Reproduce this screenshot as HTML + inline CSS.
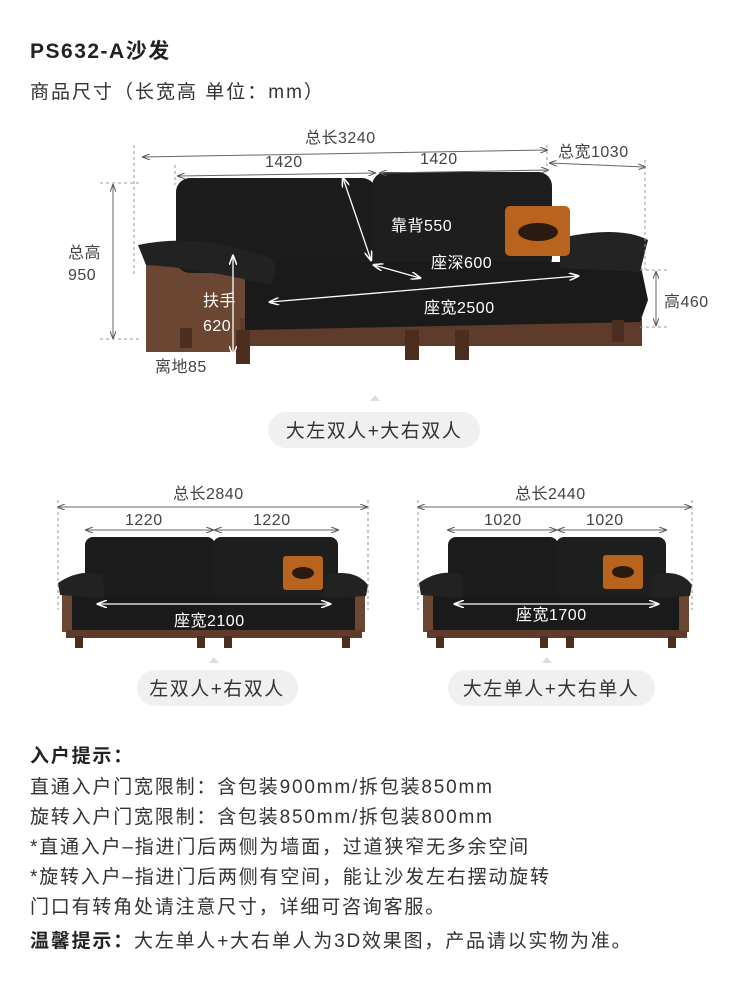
<!DOCTYPE html>
<html><head><meta charset="utf-8"><style>
html,body{margin:0;padding:0;background:#fff;}
svg{display:block;}
text{font-family:"Liberation Sans","Noto Sans CJK SC",sans-serif;}
</style></head><body>
<svg width="750" height="986" viewBox="0 0 750 986" xmlns="http://www.w3.org/2000/svg">
<defs>
<marker id="a" markerWidth="8" markerHeight="6" refX="7" refY="3" orient="auto-start-reverse"><path d="M0,0 L8,3 L0,6" fill="none" stroke="#555" stroke-width="1"/></marker>
<marker id="w" markerWidth="8" markerHeight="6" refX="7" refY="3" orient="auto-start-reverse"><path d="M0,0 L8,3 L0,6" fill="none" stroke="#fff" stroke-width="1.2"/></marker>
</defs>
<text x="30" y="58" font-size="21" font-weight="bold" fill="#222" letter-spacing="1.5">PS632-A沙发</text>
<text x="30" y="98" font-size="19" fill="#333" letter-spacing="2">商品尺寸（长宽高 单位：mm）</text>

<!-- TOP SOFA -->
<g>
<rect x="146" y="262" width="100" height="90" fill="#6a4633"/>
<rect x="240" y="318" width="402" height="28" fill="#5e3b2a"/>
<rect x="176" y="178" width="200" height="95" rx="14" fill="#1c1c1c"/>
<rect x="372" y="172" width="180" height="100" rx="14" fill="#1e1e1e"/>
<path d="M245,262 L640,262 L648,300 L640,322 L245,330 Z" fill="#1a1a1a"/>
<path d="M138,245 Q200,232 270,258 Q282,270 270,285 Q200,268 146,265 Z" fill="#222"/>
<path d="M560,238 Q620,225 648,240 L640,272 L560,268 Z" fill="#232323"/>
<rect x="505" y="206" width="65" height="50" rx="5" fill="#b8641e"/>
<ellipse cx="538" cy="232" rx="20" ry="9" fill="#2a1a10"/>
<rect x="236" y="330" width="14" height="34" fill="#4b2e20"/>
<rect x="405" y="330" width="14" height="30" fill="#4b2e20"/>
<rect x="455" y="330" width="14" height="30" fill="#4b2e20"/>
<rect x="612" y="320" width="12" height="22" fill="#4b2e20"/>
<rect x="180" y="328" width="12" height="20" fill="#4b2e20"/>
</g>
<g stroke="#666" stroke-width="1" fill="none">
<line x1="143" y1="157" x2="547" y2="150" marker-start="url(#a)" marker-end="url(#a)"/>
<line x1="178" y1="176" x2="375" y2="173" marker-start="url(#a)" marker-end="url(#a)"/>
<line x1="380" y1="173" x2="548" y2="170" marker-start="url(#a)" marker-end="url(#a)"/>
<line x1="550" y1="163" x2="645" y2="167" marker-start="url(#a)" marker-end="url(#a)"/>
<line x1="113" y1="185" x2="113" y2="338" marker-start="url(#a)" marker-end="url(#a)"/>
<line x1="656" y1="272" x2="656" y2="325" marker-start="url(#a)" marker-end="url(#a)"/>
<g stroke-dasharray="3,3" stroke="#999">
<line x1="134" y1="145" x2="134" y2="275"/><line x1="547" y1="145" x2="547" y2="175"/>
<line x1="645" y1="160" x2="645" y2="270"/><line x1="100" y1="183" x2="140" y2="183"/>
<line x1="100" y1="339" x2="140" y2="339"/><line x1="640" y1="270" x2="670" y2="270"/>
<line x1="640" y1="327" x2="670" y2="327"/><line x1="175" y1="165" x2="175" y2="185"/>
</g></g>
<g stroke="#fff" stroke-width="1.3" fill="none">
<line x1="343" y1="178" x2="371" y2="260" marker-start="url(#w)" marker-end="url(#w)"/>
<line x1="374" y1="265" x2="420" y2="278" marker-start="url(#w)" marker-end="url(#w)"/>
<line x1="270" y1="302" x2="578" y2="276" marker-start="url(#w)" marker-end="url(#w)"/>
<line x1="233" y1="256" x2="233" y2="355" marker-start="url(#w)" marker-end="url(#w)"/>
</g>
<g font-size="16" letter-spacing="0.5">
<text x="305" y="143" fill="#444">总长3240</text>
<text x="265" y="167" fill="#444">1420</text>
<text x="420" y="164" fill="#444">1420</text>
<text x="558" y="157" fill="#444">总宽1030</text>
<text x="68" y="258" fill="#444">总高</text><text x="68" y="280" fill="#444">950</text>
<text x="664" y="307" fill="#444">高460</text>
<text x="155" y="372" fill="#444">离地85</text>
<text x="391" y="231" fill="#fff">靠背550</text>
<text x="431" y="268" fill="#fff">座深600</text>
<text x="424" y="313" fill="#fff">座宽2500</text>
<text x="203" y="306" fill="#fff">扶手</text><text x="203" y="331" fill="#fff">620</text>
</g>
<path d="M370,401 L375,395 L380,401 Z" fill="#ddd"/>
<rect x="268" y="412" width="212" height="36" rx="18" fill="#f0f0f0"/>
<text x="374" y="437" font-size="19" fill="#333" text-anchor="middle" letter-spacing="1.5">大左双人+大右双人</text>

<!-- BOTTOM LEFT -->
<g>
<rect x="62" y="590" width="303" height="42" fill="#1a1a1a"/>
<rect x="62" y="590" width="10" height="42" fill="#6a4633"/>
<rect x="355" y="590" width="10" height="42" fill="#6a4633"/>
<rect x="66" y="630" width="296" height="8" fill="#5e3b2a"/>
<rect x="85" y="537" width="130" height="60" rx="8" fill="#1c1c1c"/>
<rect x="213" y="537" width="125" height="60" rx="8" fill="#1e1e1e"/>
<path d="M58,583 Q80,568 103,575 L104,598 L60,595 Z" fill="#222"/>
<path d="M325,575 Q355,568 368,585 L366,596 L325,598 Z" fill="#222"/>
<rect x="283" y="556" width="40" height="34" rx="3" fill="#b8641e"/>
<ellipse cx="303" cy="573" rx="11" ry="6" fill="#2a1a10"/>
<rect x="75" y="636" width="8" height="12" fill="#4b2e20"/><rect x="197" y="636" width="8" height="12" fill="#4b2e20"/>
<rect x="224" y="636" width="8" height="12" fill="#4b2e20"/><rect x="342" y="636" width="8" height="12" fill="#4b2e20"/>
</g>
<g stroke="#666" fill="none">
<line x1="58" y1="507" x2="367" y2="507" marker-start="url(#a)" marker-end="url(#a)"/>
<line x1="86" y1="530" x2="213" y2="530" marker-start="url(#a)" marker-end="url(#a)"/>
<line x1="215" y1="530" x2="338" y2="530" marker-start="url(#a)" marker-end="url(#a)"/>
<g stroke="#999" stroke-dasharray="3,3"><line x1="58" y1="500" x2="58" y2="610"/><line x1="368" y1="500" x2="368" y2="610"/></g>
</g>
<line x1="98" y1="604" x2="330" y2="604" stroke="#fff" stroke-width="1.3" marker-start="url(#w)" marker-end="url(#w)"/>
<g font-size="16" letter-spacing="0.5">
<text x="173" y="499" fill="#444">总长2840</text>
<text x="125" y="525" fill="#444">1220</text><text x="253" y="525" fill="#444">1220</text>
<text x="174" y="626" fill="#fff">座宽2100</text>
</g>
<path d="M209,663 L214,657 L219,663 Z" fill="#ddd"/>
<rect x="137" y="670" width="161" height="36" rx="18" fill="#f0f0f0"/>
<text x="217" y="695" font-size="19" fill="#333" text-anchor="middle" letter-spacing="1.5">左双人+右双人</text>

<!-- BOTTOM RIGHT -->
<g>
<rect x="423" y="590" width="266" height="42" fill="#1a1a1a"/>
<rect x="423" y="590" width="10" height="42" fill="#6a4633"/>
<rect x="679" y="590" width="10" height="42" fill="#6a4633"/>
<rect x="427" y="630" width="260" height="8" fill="#5e3b2a"/>
<rect x="448" y="537" width="110" height="60" rx="8" fill="#1c1c1c"/>
<rect x="556" y="537" width="110" height="60" rx="8" fill="#1e1e1e"/>
<path d="M419,583 Q440,568 462,575 L463,598 L421,595 Z" fill="#222"/>
<path d="M652,575 Q680,568 692,585 L690,596 L652,598 Z" fill="#222"/>
<rect x="603" y="555" width="40" height="34" rx="3" fill="#b8641e"/>
<ellipse cx="623" cy="572" rx="11" ry="6" fill="#2a1a10"/>
<rect x="436" y="636" width="8" height="12" fill="#4b2e20"/><rect x="540" y="636" width="8" height="12" fill="#4b2e20"/>
<rect x="566" y="636" width="8" height="12" fill="#4b2e20"/><rect x="668" y="636" width="8" height="12" fill="#4b2e20"/>
</g>
<g stroke="#666" fill="none">
<line x1="418" y1="507" x2="691" y2="507" marker-start="url(#a)" marker-end="url(#a)"/>
<line x1="448" y1="530" x2="556" y2="530" marker-start="url(#a)" marker-end="url(#a)"/>
<line x1="558" y1="530" x2="666" y2="530" marker-start="url(#a)" marker-end="url(#a)"/>
<g stroke="#999" stroke-dasharray="3,3"><line x1="418" y1="500" x2="418" y2="610"/><line x1="692" y1="500" x2="692" y2="610"/></g>
</g>
<line x1="455" y1="604" x2="658" y2="604" stroke="#fff" stroke-width="1.3" marker-start="url(#w)" marker-end="url(#w)"/>
<g font-size="16" letter-spacing="0.5">
<text x="515" y="499" fill="#444">总长2440</text>
<text x="484" y="525" fill="#444">1020</text><text x="586" y="525" fill="#444">1020</text>
<text x="516" y="620" fill="#fff">座宽1700</text>
</g>
<path d="M542,663 L547,657 L552,663 Z" fill="#ddd"/>
<rect x="448" y="670" width="207" height="36" rx="18" fill="#f0f0f0"/>
<text x="551" y="695" font-size="19" fill="#333" text-anchor="middle" letter-spacing="1.5">大左单人+大右单人</text>

<!-- NOTES -->
<g font-size="19" fill="#333" letter-spacing="1.8">
<text x="30" y="762" font-weight="bold" fill="#222">入户提示：</text>
<text x="30" y="793">直通入户门宽限制：含包装900mm/拆包装850mm</text>
<text x="30" y="823">旋转入户门宽限制：含包装850mm/拆包装800mm</text>
<text x="30" y="853">*直通入户–指进门后两侧为墙面，过道狭窄无多余空间</text>
<text x="30" y="883">*旋转入户–指进门后两侧有空间，能让沙发左右摆动旋转</text>
<text x="30" y="913">门口有转角处请注意尺寸，详细可咨询客服。</text>
<text x="30" y="947"><tspan font-weight="bold" fill="#222">温馨提示：</tspan>大左单人+大右单人为3D效果图，产品请以实物为准。</text>
</g>
</svg>
</body></html>
